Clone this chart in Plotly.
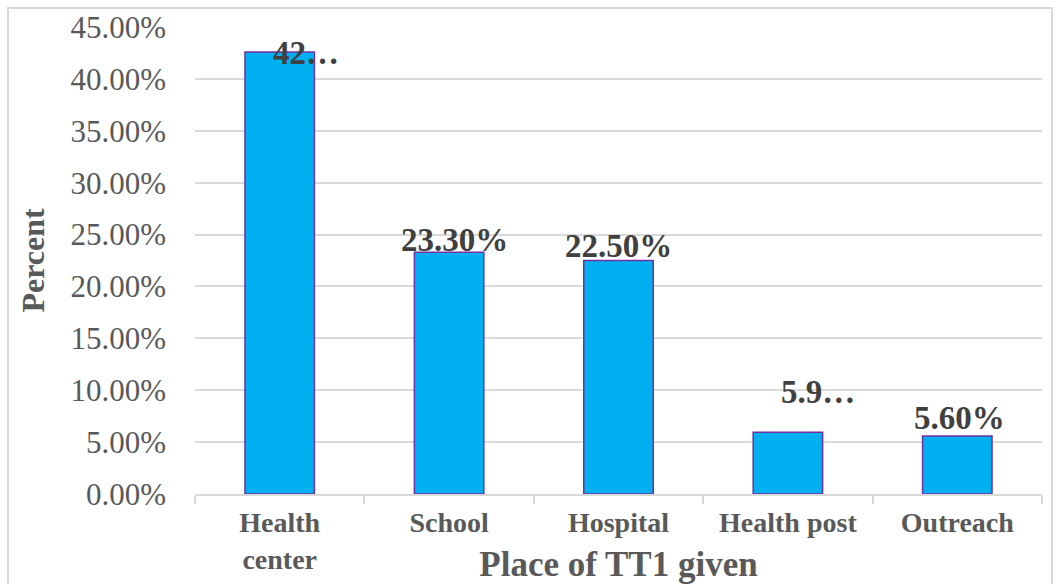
import plotly.graph_objects as go

# Place where the first tetanus toxoid dose (TT1) was given
categories = ["Health<br>center", "School", "Hospital", "Health post", "Outreach"]
percent_values = [42.60, 23.30, 22.50, 5.95, 5.60]
value_labels = ["42…", "23.30%", "22.50%", "5.9…", "5.60%"]
y_tick_values = [0, 5, 10, 15, 20, 25, 30, 35, 40, 45]
y_tick_text = [f"{v:.2f}%" for v in y_tick_values]

# label placement relative to each bar's top (pixels)
label_dx = [26, 5, 0, 30, 2]
label_dy = [-1, 12, 15, 40, 18]

W, H = 1061, 584
ML, MR, MT, MB = 195, 19, 27, 90
PW, PH = W - ML - MR, H - MT - MB

SERIF = "Liberation Serif, Times New Roman, serif"

fig = go.Figure(
    go.Bar(
        x=categories,
        y=percent_values,
        marker=dict(color="#00B0F0", line=dict(color="#7030A0", width=1.5)),
        hoverinfo="x+y",
    )
)

for cat, val, lab, dx, dy in zip(categories, percent_values, value_labels, label_dx, label_dy):
    fig.add_annotation(
        x=cat, y=val, text=lab, showarrow=False,
        xanchor="center", yanchor="middle", xshift=dx, yshift=dy,
        font=dict(family=SERIF, size=33, color="#404040", weight="bold"),
    )

# outer chart frame
def px_x(v):
    return (v - ML) / PW

def px_y(v):
    return (H - MB - v) / PH

fig.add_shape(
    type="rect", xref="paper", yref="paper",
    x0=px_x(8), x1=px_x(1052), y0=px_y(600), y1=px_y(8),
    line=dict(color="#D9D9D9", width=2), fillcolor="rgba(0,0,0,0)", layer="below",
)

fig.update_layout(
    width=W, height=H,
    margin=dict(l=ML, r=MR, t=MT, b=MB, pad=0),
    paper_bgcolor="white", plot_bgcolor="white",
    bargap=0.59, showlegend=False,
    font=dict(family=SERIF, color="#595959"),
)

fig.update_yaxes(
    range=[0, 45], tickmode="array", tickvals=y_tick_values, ticktext=y_tick_text,
    tickfont=dict(family=SERIF, size=31, color="#595959"),
    showgrid=True, gridcolor="#D9D9D9", gridwidth=1.5,
    zeroline=False, showline=False, ticks="", ticklabelstandoff=28,
    automargin=False,
    title=dict(text="Percent", standoff=16,
               font=dict(family=SERIF, size=32, color="#595959", weight="bold")),
)

fig.update_xaxes(
    showline=True, linecolor="#D9D9D9", linewidth=1.5,
    ticks="outside", tickson="boundaries", ticklen=8, tickcolor="#D9D9D9", tickwidth=1.5,
    ticklabelstandoff=3,
    tickfont=dict(family=SERIF, size=28, color="#595959", weight="bold"),
    showgrid=False, automargin=False,
    title=dict(text="Place of TT1 given", standoff=0,
               font=dict(family=SERIF, size=35, color="#595959", weight="bold")),
)

fig.write_html("out.html")
